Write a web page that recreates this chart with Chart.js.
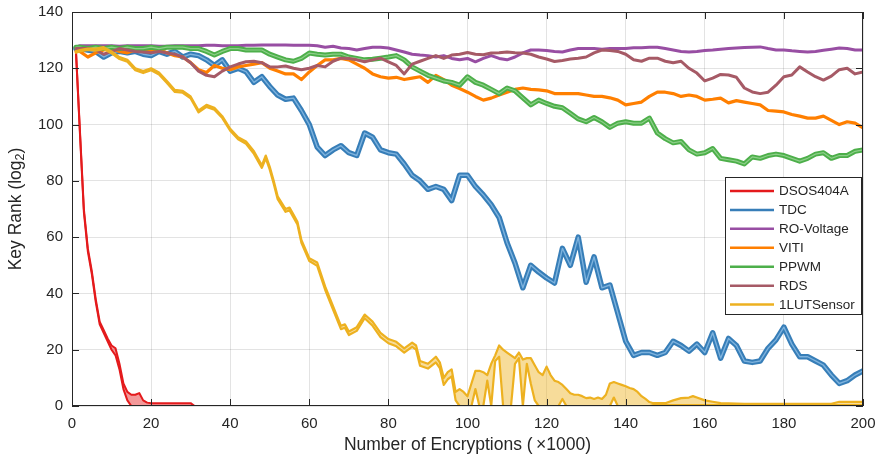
<!DOCTYPE html>
<html>
<head>
<meta charset="utf-8">
<script src="https://cdn.jsdelivr.net/npm/chart.js@4/dist/chart.umd.min.js"></script>
<style>
  html, body { margin: 0; padding: 0; background: #fff; }
  #wrap { width: 877px; height: 459px; position: relative; }
</style>
</head>
<body>
<div id="wrap"><canvas id="c" width="877" height="459"></canvas></div>
<script>
// Sample positions (thousands of encryptions) shared by the regularly sampled traces
const xSteps = [1];
for (let x = 2; x <= 200; x += 2) xSteps.push(x);

const xTicks = [0, 20, 40, 60, 80, 100, 120, 140, 160, 180, 200];
const yTicks = [0, 20, 40, 60, 80, 100, 120, 140];

const seriesNames = ['DSOS404A', 'TDC', 'RO-Voltage', 'VITI', 'PPWM', 'RDS', '1LUTSensor'];

// DSOS404A: upper / lower bound of the key rank
const dsosX  = [1, 2, 3, 4, 5, 6, 7, 8, 9, 10, 11, 12, 13, 14, 15, 16, 17, 18, 19, 20, 25, 30, 31, 200];
const dsosHi = [126, 98, 70, 56, 48, 38, 30, 27, 24, 21.5, 20.5, 15, 8, 5, 4, 4, 4.6, 2, 1.2, 1, 1, 1, 0, 0];
const dsosLo = [126, 97, 69, 55, 47, 37, 29, 26, 23, 20, 18, 13, 6, 2, 0, 0, 0, 0, 0, 0, 0, 0, 0, 0];

// TDC (on xSteps)
const tdc = [
  127, 127, 126.5, 126, 124, 125.5, 126, 125.5, 126, 125,
  124.5, 126, 125, 126, 124, 125, 124.5, 123, 121, 123,
  119, 120, 118.8, 115, 117, 113.5, 110.5, 109, 109.4, 105,
  100, 92, 89, 91, 92.5, 90, 89, 97, 95.5, 91,
  90, 89.5, 86, 82, 80, 77, 78, 77, 73, 82,
  82, 78, 75, 71.5, 67, 58, 50.8, 42, 50, 47.6,
  45.5, 43.7, 56, 50, 60, 44, 53, 42, 43, 33,
  23, 18, 19, 19, 18, 19, 23, 21.5, 19.5, 22,
  19, 26, 17, 24, 21.5, 16, 15.5, 16, 20.5, 23.5,
  28, 22, 17.5, 17.5, 16, 14.5, 11, 8, 9, 11,
  12.5
];

// RO-Voltage (on xSteps)
const roVoltage = [
  127.5, 128, 128, 128, 128, 128, 127.8, 128, 128, 128,
  128, 127.8, 127.8, 128, 128, 128, 128, 128.2, 128.2, 128,
  128, 128, 128.2, 128.2, 128.3, 128.3, 128.3, 128.3, 128.2, 128.2,
  128.2, 128, 127.5, 127.8, 127.2, 127, 126.5, 127, 127.5, 127.5,
  127.2, 126.5, 125.8, 125, 124.7, 124.5, 124, 124.5, 123.5, 123,
  123.5, 122.3, 123.5, 124.5, 123.5, 123, 124, 125.5, 126.5, 126.5,
  126.3, 126, 125.8, 126.5, 127, 127, 127, 126.8, 127, 127,
  127, 127.3, 127.3, 127.5, 127.5, 127, 126.5, 126, 125.8, 126,
  126.3, 126.5, 126.8, 127, 127.2, 127.4, 127.5, 127.6, 127, 126.5,
  126.5, 126.2, 126, 125.8, 126, 126.4, 126.8, 127.2, 127, 126.5,
  126.5
];

// VITI (on xSteps)
const viti = [
  126, 126, 124, 125.5, 126.5, 127, 126, 125.5, 126.5, 126,
  126, 126.5, 125.5, 124.5, 124, 122, 119.5, 118.5, 121, 120,
  119.5, 120.5, 121, 121.5, 122, 120, 119, 118, 118, 116,
  118.7, 121, 123, 123, 123.5, 123, 121.5, 120, 118, 117,
  116.5, 116.8, 116, 116.5, 117, 115, 117.5, 116, 114, 112.8,
  111.5, 110, 108.7, 109.4, 110.5, 111.5, 112.5, 113, 112.5, 112.3,
  112, 111, 111, 111, 111, 110.5, 110, 110, 109.5, 108.7,
  107, 107.5, 108, 110, 111.5, 111.5, 111, 110, 110.5, 110,
  108.7, 109, 109.4, 107.7, 108.5, 108, 107.5, 107, 105, 104.8,
  104.5, 103.6, 103, 102.3, 102.3, 103, 101.5, 100, 101, 100.5,
  98.8
];

// PPWM (on xSteps)
const ppwm = [
  127.5, 127.5, 127, 127.5, 127, 127.5, 127, 127.5, 127, 127,
  127.5, 127, 127.5, 127.5, 127.5, 127, 127, 126, 124.7, 126,
  127, 127, 126.5, 126.5, 126.5, 125, 124, 123, 122.5, 123.5,
  125.4, 125, 124.7, 125, 125, 124, 123.5, 123, 123.2, 123.6,
  124, 124.5, 123, 120.5, 119, 117.5, 116.5, 115.5, 115, 114,
  117, 115, 114, 112.5, 111, 113, 112, 109.5, 107, 108.7,
  107.5, 106.5, 106, 104, 102, 101, 102.5, 101, 99, 100.5,
  101, 100.5, 100.5, 102.3, 97, 95, 93.5, 94, 91, 89.5,
  90, 91.5, 88, 87.5, 87, 86, 88.5, 88, 89, 89.5,
  89, 88, 87, 88, 89.5, 90, 88, 89, 89, 90.5,
  91
];

// RDS (on xSteps)
const rds = [
  127, 127, 127, 126.5, 125, 126, 127, 126.5, 126, 125.8,
  125.5, 126, 125.4, 125, 124, 122, 119, 117.5, 117, 119,
  120.5, 121.5, 122.3, 122.5, 122, 120.5, 120.5, 120.8, 120, 119.5,
  120, 121, 120.5, 122.5, 123.6, 123.5, 123, 122.3, 123, 123.6,
  122.3, 121, 118, 121.5, 122.5, 123.5, 124.5, 123.5, 124.7, 125,
  125.6, 125, 124.8, 125.4, 125.5, 125.8, 125.5, 125.4, 125, 124,
  123.3, 122.4, 122.8, 123.3, 123.6, 124, 125.5, 126.5, 126.3, 126,
  125, 123, 122.5, 123.6, 123.6, 122.5, 122, 122.5, 120, 118.3,
  115.5, 116.5, 117.8, 117.6, 116.8, 113, 111.6, 111, 111.5, 114,
  117, 117.6, 120.5, 118.7, 117, 115.8, 117.2, 119.5, 120, 118,
  118.7
];

// 1LUTSensor: upper / lower bound of the key rank
const lutX = [
  1, 2, 4, 6, 8, 10, 12, 14, 16, 18, 20, 22, 24, 26, 28, 30, 32, 34, 36, 38,
  40, 42, 44, 46, 48, 49, 50, 51, 52, 54, 55, 56, 57, 58, 60, 62, 64, 66, 68, 69,
  70, 72, 74, 76, 78, 80, 82, 84, 86, 87, 88, 90, 92, 93, 94, 95, 96, 97, 98, 99,
  100, 101, 102, 103, 104, 105, 106, 107, 108, 109, 110, 111, 112, 113, 114, 115, 116, 117, 118, 119,
  120, 121, 122, 123, 124, 125, 126, 127, 128, 129, 130, 131, 132, 133, 134, 135, 136, 137, 138, 139,
  140, 141, 142, 143, 144, 145, 146, 147, 148, 150, 152, 154, 156, 157, 158, 160, 162, 164, 170, 180,
  190, 192, 194, 196, 200
];
const lutHi = [
  126, 126.5, 127, 127, 127.5, 126, 124, 123, 120, 119, 120, 118.5, 115.5, 112.3, 112, 110, 105, 107, 106, 103,
  98.5, 95.5, 94, 90.5, 85.5, 89, 85, 80, 74.5, 70, 70.5, 68, 65.5, 59, 52.5, 51, 42.5, 35.5, 28.5, 29,
  26.5, 28, 32.5, 30, 26, 23.8, 22.8, 20.5, 22.5, 21.5, 16, 15, 17.5, 15.5, 10, 12, 13, 5, 6, 5,
  3.5, 8, 12.5, 12.5, 12, 11, 15, 18, 21.5, 20, 19, 18, 17, 19, 16.5, 17, 17, 14.5, 12, 11,
  14, 11, 9, 8.5, 7.5, 6, 4.5, 4, 4, 3.5, 2.8, 3, 2.5, 3, 2.5, 4, 8, 8.5, 8, 7.5,
  7, 6.4, 6, 5, 3.5, 2.5, 1.4, 1, 1, 1, 2, 2.8, 3, 3.5, 3, 2, 1.5, 1, 0.8, 0.8,
  0.8, 0.8, 1.5, 1.5, 1.5
];
const lutLo = [
  125.5, 126, 126.5, 126.3, 126.8, 125.3, 123.3, 122.3, 119.3, 118.3, 119.3, 117.8, 114.8, 111.6, 111.3, 109.3, 104.3, 106.3, 105.3, 102.3,
  97.8, 94.8, 93.2, 89.6, 84.6, 88, 84, 79, 73.5, 69, 69.5, 67, 64.5, 58, 51.5, 49.8, 41.3, 34.3, 27.3, 27.8,
  25.2, 26.7, 31.2, 28.5, 24.5, 22.3, 21.2, 19, 21, 20, 14.3, 13.3, 15.5, 13.5, 7.5, 9.5, 10.5, 2, 0, 0,
  0, 0, 6, 0, 0, 9, 0, 16, 17.5, 0, 0, 0, 15, 17, 0, 15, 8, 2, 0, 0,
  0, 0, 0, 0, 2.5, 0, 0, 0, 0, 0, 0, 0, 0, 0, 0, 0, 0, 3, 0, 0,
  0, 0, 0, 0, 0, 0, 0, 0.3, 0.3, 0.3, 0.3, 0.3, 0.3, 0.3, 0.3, 0.3, 0.3, 0.3, 0.3, 0.3,
  0.3, 0.3, 0.3, 0.3, 0.3
];

const COLORS = {
  red: '#e41a1c', blue: '#377eb8', purple: '#984ea3', orange: '#ff7f00',
  green: '#4daf4a', rds: '#a65a66', yellow: '#edb120'
};
const legendColors = [COLORS.red, COLORS.blue, COLORS.purple, COLORS.orange, COLORS.green, COLORS.rds, COLORS.yellow];

const pts = (xs, ys) => xs.map((x, i) => ({ x: x, y: ys[i] }));

function line(data, color, width, order, extra) {
  return Object.assign({
    data: data, borderColor: color, borderWidth: width, pointRadius: 0,
    tension: 0, fill: false, order: order, borderJoinStyle: 'round', borderCapStyle: 'round'
  }, extra || {});
}

const datasets = [
  line(pts(dsosX, dsosHi), COLORS.red, 2, 12),
  line(pts(dsosX, dsosLo), COLORS.red, 2, 12, { fill: '-1', backgroundColor: 'rgba(228,26,28,0.45)' }),
  line(pts(xSteps, tdc), COLORS.blue, 5.5, 10),
  line(pts(xSteps, tdc), '#7db2dd', 1.4, 9),
  line(pts(xSteps, roVoltage), COLORS.purple, 3, 8),
  line(pts(xSteps, viti), COLORS.orange, 3.2, 6),
  line(pts(xSteps, ppwm), COLORS.green, 5, 4),
  line(pts(xSteps, ppwm), '#8dcf89', 1.2, 3),
  line(pts(xSteps, rds), COLORS.rds, 3, 2),
  line(pts(lutX, lutHi), COLORS.yellow, 2.2, 0),
  line(pts(lutX, lutLo), COLORS.yellow, 2.2, 0, { fill: '-1', backgroundColor: 'rgba(237,177,32,0.45)' })
];

const FONT = '"Liberation Sans", Arial, Helvetica, sans-serif';
const TEXT = '#262626';

// Axes box, inward ticks, axis titles and the boxed legend
const frameAndLegend = {
  id: 'frameAndLegend',
  afterDraw(chart) {
    const ctx = chart.ctx;
    const a = chart.chartArea;
    const xs = chart.scales.x, ys = chart.scales.y;
    ctx.save();
    ctx.strokeStyle = TEXT;
    ctx.lineWidth = 1;
    ctx.beginPath();
    xTicks.forEach(v => {
      const p = Math.round(xs.getPixelForValue(v)) + 0.5;
      ctx.moveTo(p, a.bottom); ctx.lineTo(p, a.bottom - 7);
      ctx.moveTo(p, a.top); ctx.lineTo(p, a.top + 7);
    });
    yTicks.forEach(v => {
      const p = Math.round(ys.getPixelForValue(v)) + 0.5;
      ctx.moveTo(a.left, p); ctx.lineTo(a.left + 7, p);
      ctx.moveTo(a.right, p); ctx.lineTo(a.right - 7, p);
    });
    ctx.stroke();
    ctx.strokeRect(Math.round(a.left) + 0.5, Math.round(a.top) + 0.5,
                   Math.round(a.right - a.left) - 1, Math.round(a.bottom - a.top) - 1);

    // x axis title
    ctx.fillStyle = TEXT;
    ctx.font = '17.5px ' + FONT;
    ctx.textAlign = 'center';
    ctx.textBaseline = 'middle';
    ctx.fillText('Number of Encryptions (\u2009\u00d71000)', (a.left + a.right) / 2, 445);

    // y axis title with subscript
    ctx.save();
    ctx.translate(16, (a.top + a.bottom) / 2);
    ctx.rotate(-Math.PI / 2);
    const main = 'Key Rank (log', sub = '2', tail = ')';
    ctx.font = '17.5px ' + FONT;
    const w1 = ctx.measureText(main).width, w3 = ctx.measureText(tail).width;
    ctx.font = '12.5px ' + FONT;
    const w2 = ctx.measureText(sub).width;
    const start = -(w1 + w2 + w3) / 2;
    ctx.textAlign = 'left';
    ctx.font = '17.5px ' + FONT;
    ctx.fillText(main, start, 0);
    ctx.font = '12.5px ' + FONT;
    ctx.fillText(sub, start + w1, 5);
    ctx.font = '17.5px ' + FONT;
    ctx.fillText(tail, start + w1 + w2, 0);
    ctx.restore();

    // legend
    const lx = 725, ly = 177, lw = 136, lh = 137;
    ctx.fillStyle = '#ffffff';
    ctx.fillRect(lx, ly, lw, lh);
    ctx.strokeStyle = TEXT;
    ctx.lineWidth = 1;
    ctx.strokeRect(lx + 0.5, ly + 0.5, lw, lh);
    ctx.font = '13.5px ' + FONT;
    ctx.textAlign = 'left';
    ctx.textBaseline = 'middle';
    seriesNames.forEach((name, i) => {
      const y = 191 + i * 18.93;
      ctx.strokeStyle = legendColors[i];
      ctx.lineWidth = 2.5;
      ctx.beginPath();
      ctx.moveTo(730, y); ctx.lineTo(774, y);
      ctx.stroke();
      ctx.fillStyle = TEXT;
      ctx.fillText(name, 779, y + 0.5);
    });
    ctx.restore();
  }
};

new Chart(document.getElementById('c'), {
  type: 'line',
  data: { datasets: datasets },
  options: {
    responsive: false,
    devicePixelRatio: 1,
    animation: false,
    layout: { padding: { left: 0, right: 14, top: 12, bottom: 0 } },
    plugins: { legend: { display: false }, tooltip: { enabled: false } },
    scales: {
      x: {
        type: 'linear', min: 0, max: 200,
        afterFit: s => { s.height = 53; s.paddingLeft = 0; s.paddingRight = 0; },
        afterBuildTicks: s => { s.ticks = xTicks.map(v => ({ value: v })); },
        grid: { color: 'rgba(0,0,0,0.11)', drawTicks: false },
        border: { display: false },
        ticks: { font: { family: FONT, size: 15 }, color: TEXT, padding: 9, maxRotation: 0, autoSkip: false }
      },
      y: {
        type: 'linear', min: 0, max: 140,
        afterFit: s => { s.width = 72; s.paddingTop = 0; s.paddingBottom = 0; },
        afterBuildTicks: s => { s.ticks = yTicks.map(v => ({ value: v })); },
        grid: { color: 'rgba(0,0,0,0.11)', drawTicks: false },
        border: { display: false },
        ticks: { font: { family: FONT, size: 15 }, color: TEXT, padding: 9 }
      }
    }
  },
  plugins: [frameAndLegend]
});
</script>
</body>
</html>
